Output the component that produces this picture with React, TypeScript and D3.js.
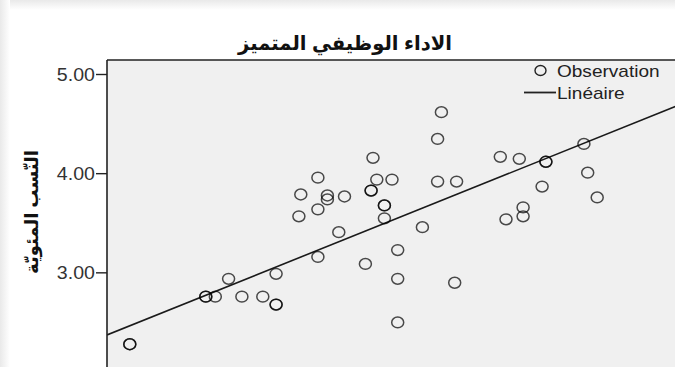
import React from "react";
import * as d3 from "d3";

const W = 675;
const H = 367;

const title = "الاداء الوظيفي المتميز";
const yLabel = "النّسب المئويّة";
const yTicks = [3, 4, 5];
const legendItems = ["Observation", "Linéaire"];

// x values (hidden axis, arbitrary units) and y values of the observations; duplicates appear twice
const xValues = [
  2.12, 2.12, 2.52, 2.52, 2.57, 2.64, 2.71, 2.82, 2.89, 2.89, 2.89,
  3.01, 3.02, 3.11, 3.11, 3.11, 3.16, 3.16, 3.22, 3.25,
  3.40, 3.42, 3.50, 3.39, 3.39, 3.46, 3.46, 3.46, 3.36, 3.53, 3.53, 3.53,
  3.66, 3.74, 3.76, 3.74, 3.84, 3.83, 4.07, 4.17, 4.31, 4.31,
  4.51, 4.53, 4.58, 4.29, 4.19, 4.19, 4.10,
];
const yValues = [
  2.28, 2.28, 2.76, 2.76, 2.76, 2.94, 2.76, 2.76, 2.68, 2.68, 2.99,
  3.57, 3.79, 3.96, 3.64, 3.16, 3.78, 3.74, 3.41, 3.77,
  4.16, 3.94, 3.94, 3.83, 3.83, 3.68, 3.68, 3.55, 3.09, 3.23, 2.94, 2.50,
  3.46, 4.35, 4.62, 3.92, 3.92, 2.90, 4.17, 4.15, 4.12, 4.12,
  4.30, 4.01, 3.76, 3.87, 3.66, 3.57, 3.54,
];
// linear fit: y = intercept + slope * x
const fitIntercept = 0.834;
const fitSlope = 0.77;

export default function App() {
  const plotLeft = 107;
  const plotTop = 60;
  const x = d3.scaleLinear().domain([2, 5]).range([107, 677]);
  const y = d3.scaleLinear().domain([2, 5]).range([372, 74.5]);
  const xd = x.domain();
  const linePts: [number, number][] = xd.map((v) => [v, fitIntercept + fitSlope * v]);
  const lineGen = d3
    .line<[number, number]>()
    .x((d) => x(d[0]))
    .y((d) => y(d[1]));
  const font = "Arial, 'Liberation Sans', 'DejaVu Sans', sans-serif";

  return (
    <svg
      width={W}
      height={H}
      style={{ position: "absolute", left: 0, top: 0, display: "block" }}
    >
      <defs>
        <linearGradient id="gTop" x1="0" y1="0" x2="0" y2="1">
          <stop offset="0" stopColor="#e9e9e9" />
          <stop offset="1" stopColor="#ffffff" />
        </linearGradient>
        <linearGradient id="gLeft" x1="0" y1="0" x2="1" y2="0">
          <stop offset="0" stopColor="#e9e9e9" />
          <stop offset="1" stopColor="#ffffff" />
        </linearGradient>
        <clipPath id="plotClip">
          <rect x={plotLeft} y={plotTop} width={W - plotLeft} height={H - plotTop} />
        </clipPath>
      </defs>
      <rect x={0} y={0} width={W} height={H} fill="#ffffff" />
      <rect x={0} y={0} width={W} height={10} fill="url(#gTop)" />
      <rect x={0} y={0} width={10} height={H} fill="url(#gLeft)" />
      <rect x={10} y={10} width={W - 10} height={H - 10} fill="#ffffff" />

      <text
        x={345}
        y={50}
        textAnchor="middle"
        fontFamily={font}
        fontWeight="bold"
        fontSize={20}
        fill="#111"
        direction="rtl"
        textLength={214}
        lengthAdjust="spacingAndGlyphs"
      >
        {title}
      </text>

      <rect x={plotLeft} y={plotTop} width={W - plotLeft + 5} height={H - plotTop + 5} fill="#f0f0f0" />

      <g clipPath="url(#plotClip)">
        <path d={lineGen(linePts) || ""} fill="none" stroke="#1a1a1a" strokeWidth={1.6} />
        {xValues.map((xv, i) => (
          <ellipse
            key={i}
            cx={x(xv)}
            cy={y(yValues[i])}
            rx={6}
            ry={5.4}
            fill="none"
            stroke="#000"
            strokeOpacity={0.7}
            strokeWidth={1.5}
          />
        ))}
      </g>

      <line x1={plotLeft} y1={plotTop} x2={W} y2={plotTop} stroke="#222" strokeWidth={1.6} />
      <line x1={plotLeft} y1={plotTop} x2={plotLeft} y2={H} stroke="#222" strokeWidth={1.6} />

      {yTicks.map((t) => (
        <g key={t}>
          <line x1={96} x2={plotLeft} y1={y(t)} y2={y(t)} stroke="#222" strokeWidth={1.4} />
          <text
            x={0}
            y={0}
            transform={`translate(95,${y(t) + 6.3}) scale(1.12,1)`}
            textAnchor="end"
            fontFamily={font}
            fontSize={17.5}
            fill="#333"
          >
            {t.toFixed(2)}
          </text>
        </g>
      ))}

      <text
        transform={`translate(38,212) rotate(-90)`}
        textAnchor="middle"
        fontFamily={font}
        fontWeight="bold"
        fontSize={18}
        fill="#111"
        direction="rtl"
      >
        {yLabel}
      </text>

      {/* legend */}
      <ellipse cx={540.5} cy={70.5} rx={5.5} ry={5} fill="none" stroke="#222" strokeWidth={1.4} />
      <text
        transform={`translate(557,76.5) scale(1.12,1)`}
        fontFamily={font}
        fontSize={17}
        fill="#222"
      >
        {legendItems[0]}
      </text>
      <line x1={524} x2={556} y1={92.5} y2={92.5} stroke="#222" strokeWidth={1.8} />
      <text
        transform={`translate(557,99) scale(1.12,1)`}
        fontFamily={font}
        fontSize={17}
        fill="#222"
      >
        {legendItems[1]}
      </text>
    </svg>
  );
}
